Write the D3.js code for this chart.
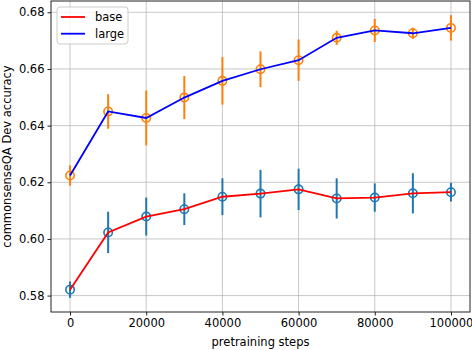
<!DOCTYPE html>
<html>
<head>
<meta charset="utf-8">
<script src="https://cdn.jsdelivr.net/npm/d3@7"></script>
<style>
  body { margin: 0; background: #fff; }
  text { font-family: "DejaVu Sans", sans-serif; }
</style>
</head>
<body>
<div id="chart"></div>
<script>
// chart size
const width = 472;
const height = 350;
const margin = {top: 1, right: 2, bottom: 38, left: 51};

// data
const steps = [0, 10000, 20000, 30000, 40000, 50000, 60000, 70000, 80000, 90000, 100000];
const baseAcc = [0.5821, 0.6023, 0.6079, 0.6105, 0.6149, 0.6160, 0.6175, 0.6143, 0.6146, 0.6161, 0.6165];
const baseErr = [0.0029, 0.0073, 0.0067, 0.0056, 0.0065, 0.0084, 0.0073, 0.0071, 0.0050, 0.0071, 0.0033];
const largeAcc = [0.6224, 0.6450, 0.6427, 0.6499, 0.6558, 0.6599, 0.6631, 0.6710, 0.6736, 0.6726, 0.6745];
const largeErr = [0.0036, 0.0061, 0.0097, 0.0076, 0.0084, 0.0063, 0.0073, 0.0025, 0.0041, 0.0020, 0.0045];
const xTicks = [0, 20000, 40000, 60000, 80000, 100000];
const yTicks = [0.58, 0.60, 0.62, 0.64, 0.66, 0.68];

const series = [
  {name: "base", acc: baseAcc, err: baseErr, line: "red", marker: "#1f77b4"},
  {name: "large", acc: largeAcc, err: largeErr, line: "blue", marker: "#ff7f0e"}
];

const svg = d3.select("#chart")
  .append("svg")
  .attr("width", width)
  .attr("height", height);

// domains padded by 5% like matplotlib
const xPad = (d3.max(steps) - d3.min(steps)) * 0.05;
const x = d3.scaleLinear()
  .domain([d3.min(steps) - xPad, d3.max(steps) + xPad])
  .range([margin.left, width - margin.right]);

const lows = series.flatMap(s => s.acc.map((v, i) => v - s.err[i]));
const highs = series.flatMap(s => s.acc.map((v, i) => v + s.err[i]));
const yPad = (d3.max(highs) - d3.min(lows)) * 0.05;
const y = d3.scaleLinear()
  .domain([d3.min(lows) - yPad, d3.max(highs) + yPad])
  .range([height - margin.bottom, margin.top]);

// grid
svg.append("g")
  .selectAll("line")
  .data(xTicks)
  .enter()
  .append("line")
  .attr("x1", d => x(d)).attr("x2", d => x(d))
  .attr("y1", margin.top).attr("y2", height - margin.bottom)
  .attr("stroke", "#b0b0b0").attr("stroke-opacity", 0.7).attr("stroke-width", 1);

svg.append("g")
  .selectAll("line")
  .data(yTicks)
  .enter()
  .append("line")
  .attr("x1", margin.left).attr("x2", width - margin.right)
  .attr("y1", d => y(d)).attr("y2", d => y(d))
  .attr("stroke", "#b0b0b0").attr("stroke-opacity", 0.7).attr("stroke-width", 1);

// error bars and open markers
series.forEach(s => {
  const g = svg.append("g");
  g.selectAll("line")
    .data(steps)
    .enter()
    .append("line")
    .attr("x1", d => x(d)).attr("x2", d => x(d))
    .attr("y1", (d, i) => y(s.acc[i] - s.err[i]))
    .attr("y2", (d, i) => y(s.acc[i] + s.err[i]))
    .attr("stroke", s.marker)
    .attr("stroke-width", 2);

  g.selectAll("circle")
    .data(steps)
    .enter()
    .append("circle")
    .attr("cx", d => x(d))
    .attr("cy", (d, i) => y(s.acc[i]))
    .attr("r", 4.2)
    .attr("fill", "none")
    .attr("stroke", s.marker)
    .attr("stroke-width", 1.6);
});

// lines on top
const line = d3.line()
  .x(d => x(d[0]))
  .y(d => y(d[1]));

series.forEach(s => {
  svg.append("path")
    .datum(steps.map((d, i) => [d, s.acc[i]]))
    .attr("d", line)
    .attr("fill", "none")
    .attr("stroke", s.line)
    .attr("stroke-width", 1.8);
});

// axes
const xAxis = svg.append("g")
  .attr("transform", `translate(0,${height - margin.bottom})`)
  .call(d3.axisBottom(x).tickValues(xTicks).tickFormat(d3.format("d")).tickSize(3.5).tickPadding(3));

const yAxis = svg.append("g")
  .attr("transform", `translate(${margin.left},0)`)
  .call(d3.axisLeft(y).tickValues(yTicks).tickFormat(d3.format(".2f")).tickSize(3.5).tickPadding(3));

[xAxis, yAxis].forEach(a => {
  a.select(".domain").remove();
  a.selectAll("text").attr("font-size", "11.5px").attr("fill", "#000")
    .style("font-family", "'DejaVu Sans', sans-serif");
  a.selectAll("line").attr("stroke", "#000").attr("stroke-width", 0.9);
});

// frame
svg.append("rect")
  .attr("x", margin.left)
  .attr("y", margin.top)
  .attr("width", width - margin.left - margin.right)
  .attr("height", height - margin.top - margin.bottom)
  .attr("fill", "none")
  .attr("stroke", "#222")
  .attr("stroke-width", 1);

// axis labels
svg.append("text")
  .attr("x", (margin.left + width - margin.right) / 2)
  .attr("y", 346)
  .attr("text-anchor", "middle")
  .attr("font-size", "11.5px")
  .text("pretraining steps");

svg.append("text")
  .attr("transform", `translate(11,${(margin.top + height - margin.bottom) / 2}) rotate(-90)`)
  .attr("text-anchor", "middle")
  .attr("font-size", "11.5px")
  .text("commonsenseQA Dev accuracy");

// legend
const legend = svg.append("g").attr("transform", "translate(57,7)");
legend.append("rect")
  .attr("width", 71)
  .attr("height", 37)
  .attr("rx", 3)
  .attr("fill", "#fff")
  .attr("fill-opacity", 0.8)
  .attr("stroke", "#ccc")
  .attr("stroke-width", 1);

series.forEach((s, i) => {
  const row = legend.append("g").attr("transform", `translate(0,${10 + i * 16.7})`);
  row.append("line")
    .attr("x1", 4).attr("x2", 28)
    .attr("stroke", s.line).attr("stroke-width", 1.8);
  row.append("text")
    .attr("x", 38)
    .attr("dy", "0.35em")
    .attr("font-size", "11.5px")
    .text(s.name);
});
</script>
</body>
</html>
